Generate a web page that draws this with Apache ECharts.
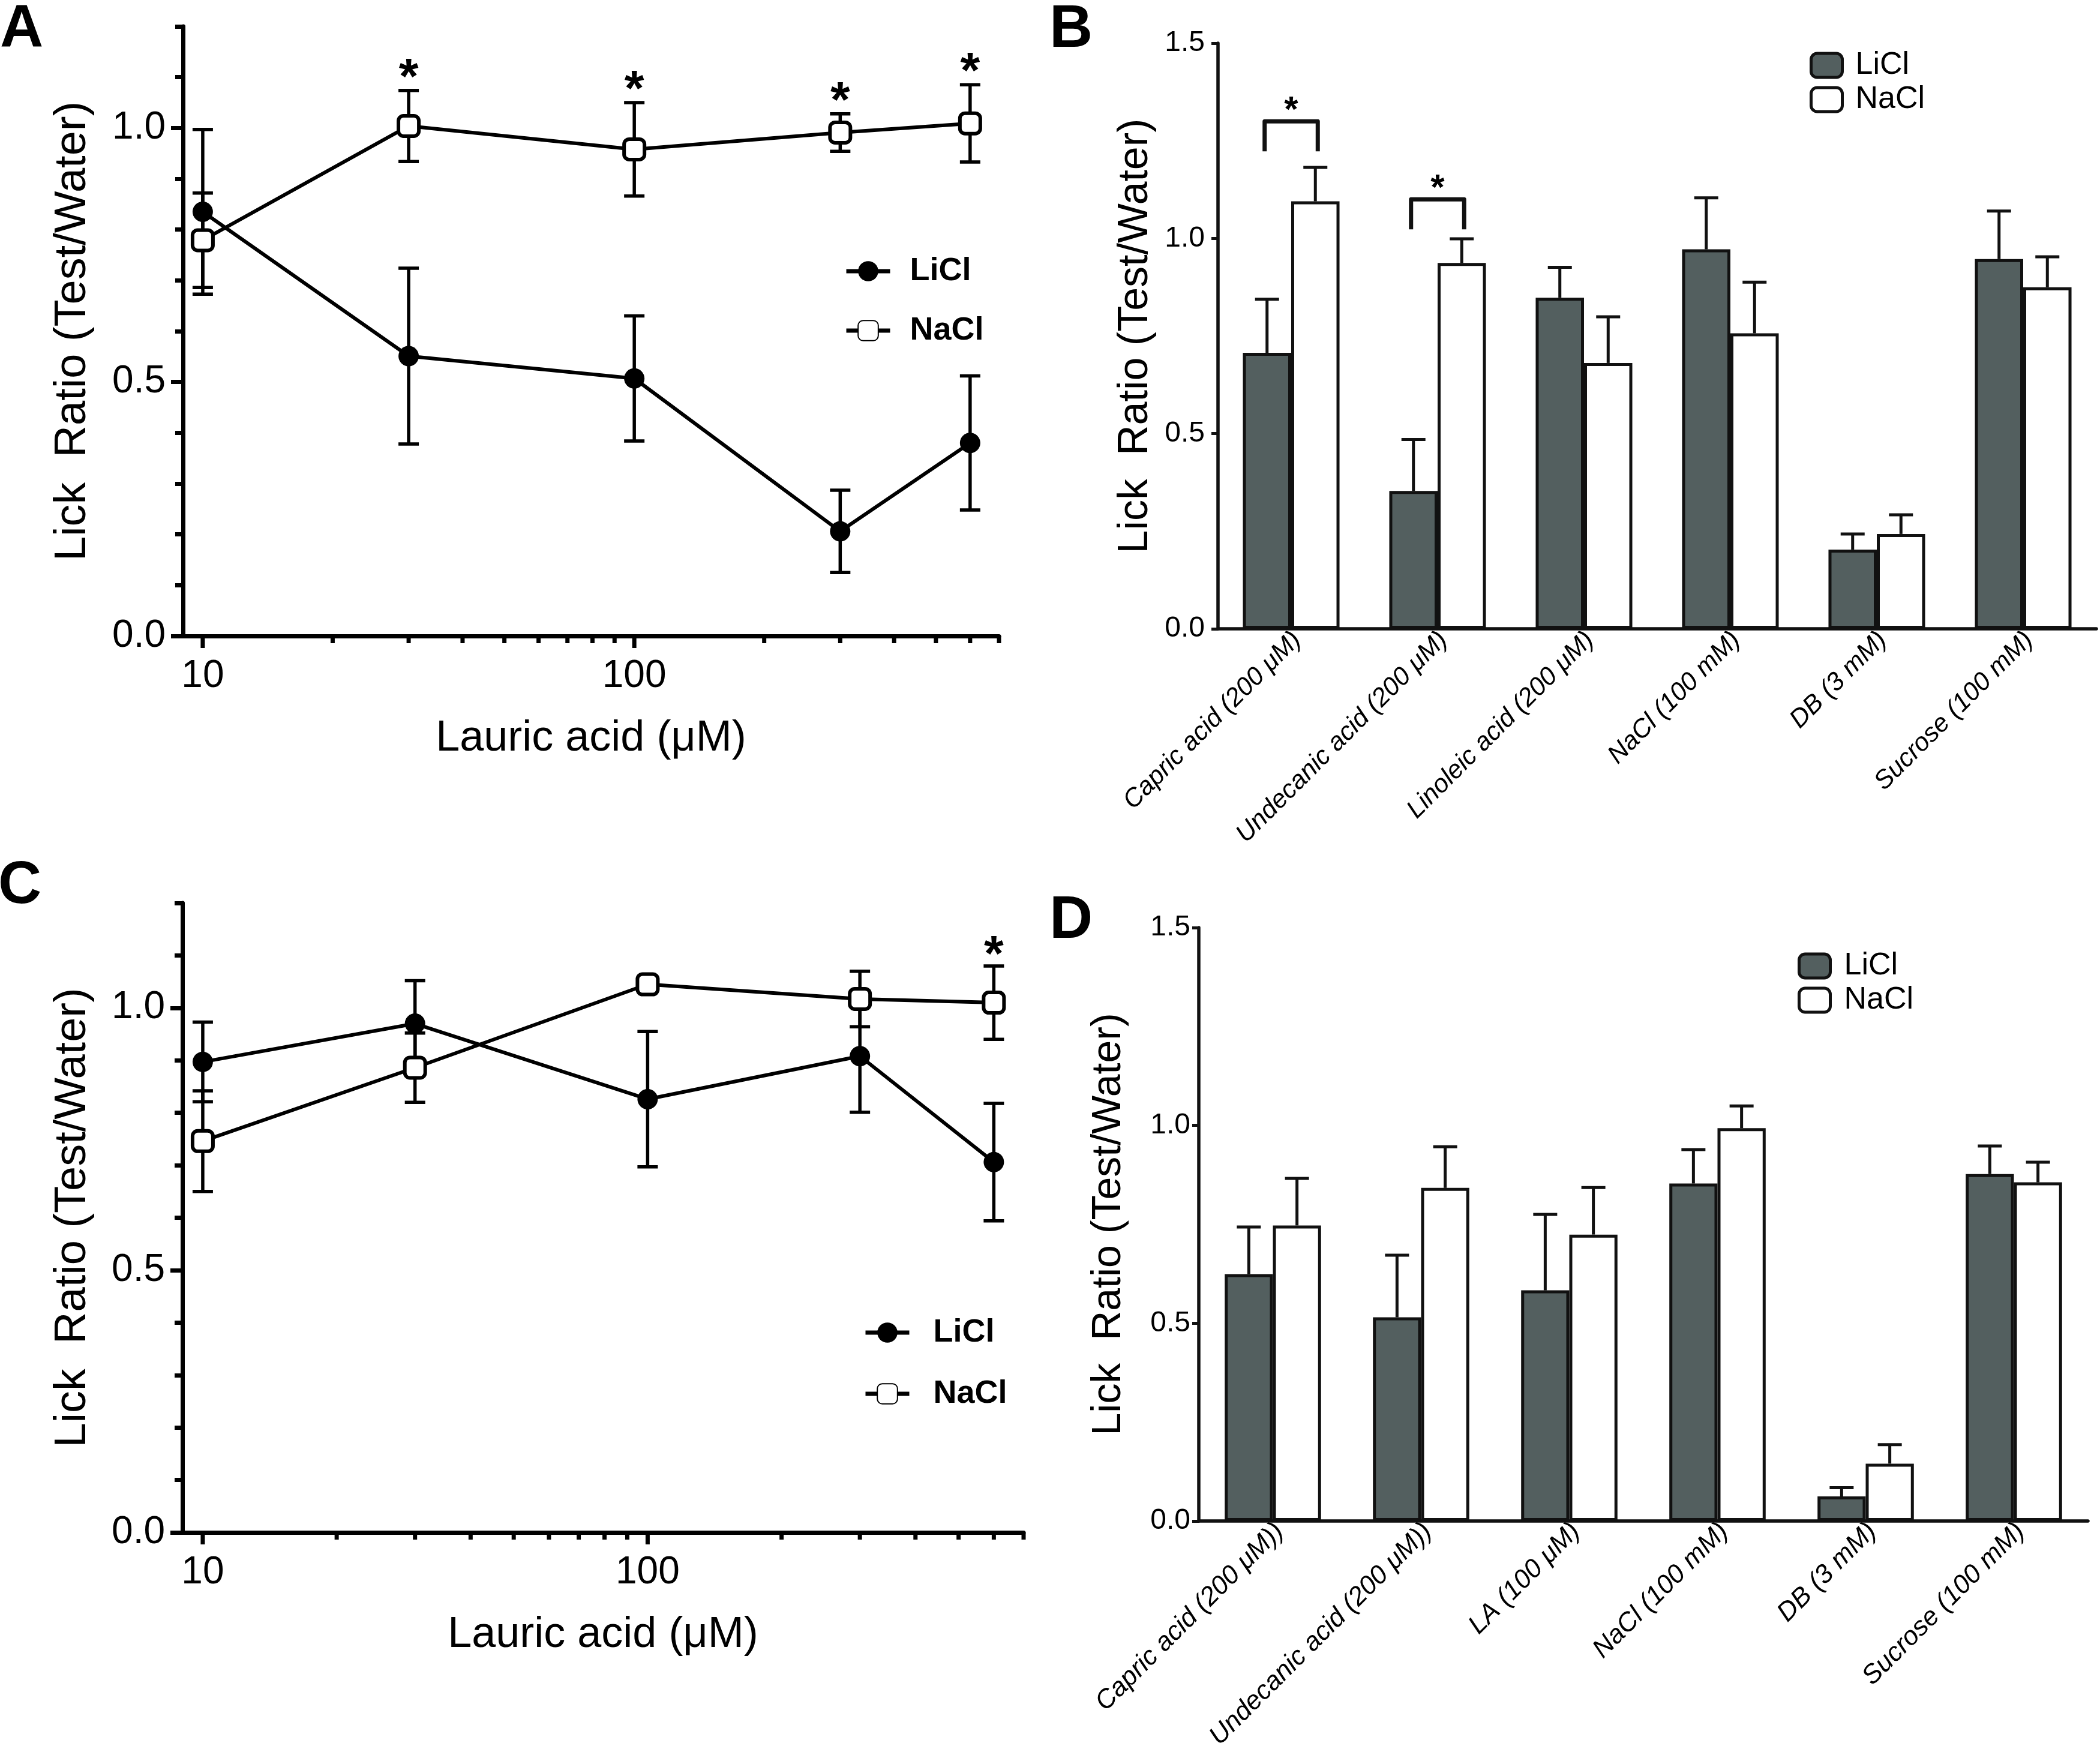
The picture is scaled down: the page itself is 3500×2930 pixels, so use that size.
<!DOCTYPE html>
<html><head><meta charset="utf-8">
<script src="https://cdn.jsdelivr.net/npm/echarts@6/dist/echarts.min.js"></script>
<style>html,body{margin:0;padding:0;background:#fff}#c{width:3500px;height:2930px}</style>
</head><body><div id="c"></div>
<script>
// ---------- Panel A : lauric acid dose response ----------
const aDoses     = [10, 30, 100, 300, 600];
const aLiClMean  = [0.835, 0.551, 0.507, 0.206, 0.380];
const aLiClSem   = [0.162, 0.173, 0.123, 0.081, 0.132];
const aNaClMean  = [0.779, 1.004, 0.958, 0.991, 1.009];
const aNaClSem   = [0.093, 0.070, 0.092, 0.037, 0.076];
const aSigDoses  = [30, 100, 300, 600];
// ---------- Panel C ----------
const cDoses     = [10, 30, 100, 300, 600];
const cLiClMean  = [0.897, 0.970, 0.826, 0.908, 0.706];
const cLiClSem   = [0.076, 0.082, 0.129, 0.107, 0.112];
const cNaClMean  = [0.746, 0.886, 1.045, 1.017, 1.010];
const cNaClSem   = [0.096, 0.066, 0.015, 0.053, 0.070];
const cSigDoses  = [600];
// ---------- Panel B ----------
const bCategories = ['Capric acid (200 μM)', 'Undecanic acid (200 μM)', 'Linoleic acid (200 μM)', 'NaCl (100 mM)', 'DB (3 mM)', 'Sucrose (100 mM)'];
const bLiClMean  = [0.707, 0.353, 0.848, 0.972, 0.203, 0.947];
const bLiClSem   = [0.137, 0.132, 0.078, 0.132, 0.040, 0.123];
const bNaClMean  = [1.095, 0.937, 0.681, 0.757, 0.243, 0.875];
const bNaClSem   = [0.087, 0.062, 0.118, 0.131, 0.049, 0.078];
const bBracketCats   = [0, 1];
const bBracketLevels = [1.30, 1.10];
// ---------- Panel D ----------
const dCategories = ['Capric acid (200 μM))', 'Undecanic acid (200 μM))', 'LA (100 μM)', 'NaCl (100 mM)', 'DB (3 mM)', 'Sucrose (100 mM)'];
const dLiClMean  = [0.624, 0.515, 0.583, 0.853, 0.062, 0.877];
const dLiClSem   = [0.119, 0.157, 0.192, 0.086, 0.022, 0.071];
const dNaClMean  = [0.747, 0.842, 0.724, 0.993, 0.145, 0.856];
const dNaClSem   = [0.119, 0.104, 0.119, 0.056, 0.048, 0.051];
// ---------- ticks ----------
const xMajorTicks = [10, 100];
const xMinorTicks = [20, 30, 40, 50, 60, 70, 80, 90, 200, 300, 400, 500, 600, 700];
const lineYLabels = [0, 0.5, 1.0];
const barYLabels  = [0, 0.5, 1.0, 1.5];

const FONT = "'Liberation Sans', Arial, Helvetica, sans-serif";
const BLACK = '#000';
const DARK = '#535f5f';
const yTitle = 'Lick  Ratio (Test/Water)';
const xTitle = 'Lauric acid (μM)';

const chart = echarts.init(document.getElementById('c'), null, {renderer: 'canvas'});

function zip(xs, ys) { return xs.map((x, i) => [x, ys[i]]); }
function errRows(xs, m, s) { return xs.map((x, i) => [x, m[i] - s[i], m[i] + s[i]]); }
function sigRows(sigXs, xs, m, s) { return sigXs.map(x => { const i = xs.indexOf(x); return [x, m[i] + s[i]]; }); }

function lineErrRender(params, api) {
  const x = api.value(0);
  const lo = api.coord([x, api.value(1)]);
  const hi = api.coord([x, api.value(2)]);
  const cw = 17;
  const st = {stroke: BLACK, lineWidth: 5.5};
  return {type: 'group', children: [
    {type: 'line', shape: {x1: lo[0], y1: lo[1], x2: hi[0], y2: hi[1]}, style: st},
    {type: 'line', shape: {x1: hi[0] - cw, y1: hi[1], x2: hi[0] + cw, y2: hi[1]}, style: st},
    {type: 'line', shape: {x1: lo[0] - cw, y1: lo[1], x2: lo[0] + cw, y2: lo[1]}, style: st}
  ]};
}
function starRender(gap, size) {
  return function (params, api) {
    const p = api.coord([api.value(0), api.value(1)]);
    return {type: 'text', style: {text: '*', x: p[0], y: p[1] - gap + size * 0.2, align: 'center', verticalAlign: 'middle',
      font: 'bold ' + size + 'px ' + FONT, fill: BLACK}};
  };
}
function tickRender(len) {
  return function (params, api) {
    const p = api.coord([api.value(0), 0]);
    return {type: 'line', shape: {x1: p[0], y1: p[1], x2: p[0], y2: p[1] + len}, style: {stroke: BLACK, lineWidth: 7}};
  };
}
function barErrRender(gapFrac) {
  return function (params, api) {
    const idx = api.value(0), side = api.value(3);
    const band = api.size([1, 0])[0];
    const bw = band * (1 - gapFrac) / 2;
    const b = api.coord([idx, api.value(1)]);
    const t = api.coord([idx, api.value(2)]);
    const cx = b[0] + side * bw / 2;
    const st = {stroke: '#111', lineWidth: 5};
    return {type: 'group', children: [
      {type: 'line', shape: {x1: cx, y1: b[1], x2: cx, y2: t[1]}, style: st},
      {type: 'line', shape: {x1: cx - 20, y1: t[1], x2: cx + 20, y2: t[1]}, style: st}
    ]};
  };
}
function bracketRender(gapFrac) {
  return function (params, api) {
    const idx = api.value(0);
    const band = api.size([1, 0])[0];
    const half = band * (1 - gapFrac) / 4 + 4;
    const c = api.coord([idx, api.value(1)]);
    return {type: 'group', children: [
      {type: 'polyline', shape: {points: [[c[0] - half, c[1] + 50], [c[0] - half, c[1]], [c[0] + half, c[1]], [c[0] + half, c[1] + 50]]},
        style: {stroke: '#111', lineWidth: 7, fill: null, lineJoin: 'round'}},
      {type: 'text', style: {text: '*', x: c[0], y: c[1] - 29 + 12, align: 'center', verticalAlign: 'middle',
        font: 'bold 60px ' + FONT, fill: BLACK}}
    ]};
  };
}
function barErrRows(m, s, side) { return m.map((v, i) => [i, v, v + s[i], side]); }

function logX(grid, nameGap) {
  return {type: 'log', logBase: 10, gridIndex: grid, min: 9, max: 700,
    axisLine: {lineStyle: {color: BLACK, width: 7}}, axisTick: {show: false}, minorTick: {show: false},
    splitLine: {show: false},
    axisLabel: {color: BLACK, fontSize: 64, fontFamily: FONT, margin: 35, interval: 0,
      formatter: v => xMajorTicks.some(t => Math.abs(t - v) < 1e-6 * t) ? String(Math.round(v)) : ''},
    name: xTitle, nameLocation: 'middle', nameGap: nameGap,
    nameTextStyle: {color: BLACK, fontSize: 72, fontFamily: FONT}};
}
function lineY(grid, nameGap) {
  return {type: 'value', gridIndex: grid, min: 0, max: 1.2, interval: 0.1, position: 'left',
    axisLine: {show: true, lineStyle: {color: BLACK, width: 7}},
    axisTick: {show: true, length: 13, lineStyle: {color: BLACK, width: 7}},
    axisLabel: {customValues: lineYLabels, formatter: v => v.toFixed(1), color: BLACK, fontSize: 64, fontFamily: FONT, margin: 29},
    splitLine: {show: false},
    name: yTitle, nameLocation: 'middle', nameGap: nameGap,
    nameTextStyle: {color: BLACK, fontSize: 74, fontFamily: FONT}};
}
function lineYMajor(grid) {
  return {type: 'value', gridIndex: grid, min: 0, max: 1.2, position: 'left',
    axisLine: {show: false}, axisLabel: {show: false}, splitLine: {show: false},
    axisTick: {show: true, customValues: lineYLabels, length: 20, lineStyle: {color: BLACK, width: 7}}};
}
function catX(grid, cats, along, perp, fs) {
  return {type: 'category', gridIndex: grid, data: cats, boundaryGap: true,
    axisLine: {lineStyle: {color: '#111', width: 5.5}},
    axisTick: {alignWithLabel: true, length: 12, lineStyle: {color: '#111', width: 5}},
    axisLabel: {rotate: 45, interval: 0, color: BLACK, fontSize: fs, fontStyle: 'italic', fontFamily: FONT, margin: 22,
      padding: [2 * perp, -along, 0, 0]},
    splitLine: {show: false}};
}
function barY(grid, nameGap, fs, margin) {
  return {type: 'value', gridIndex: grid, min: 0, max: 1.5, interval: 0.5,
    axisLine: {show: true, lineStyle: {color: '#111', width: 5.5}},
    axisTick: {show: true, length: 11, lineStyle: {color: '#111', width: 5}},
    axisLabel: {customValues: barYLabels, formatter: v => v.toFixed(1), color: BLACK, fontSize: 48, fontFamily: FONT, margin: margin},
    splitLine: {show: false},
    name: yTitle, nameLocation: 'middle', nameGap: nameGap,
    nameTextStyle: {color: BLACK, fontSize: fs, fontFamily: FONT}};
}

function lineSeries(name, xi, yi, xs, ys, isNa) {
  return {type: 'line', name: name, xAxisIndex: xi, yAxisIndex: yi, data: zip(xs, ys), z: 4,
    symbol: isNa ? 'roundRect' : 'circle', symbolSize: 34,
    itemStyle: isNa ? {color: '#fff', borderColor: BLACK, borderWidth: 6} : {color: BLACK},
    lineStyle: {color: BLACK, width: 6}, animation: false};
}
function customS(xi, yi, data, render, z) {
  return {type: 'custom', xAxisIndex: xi, yAxisIndex: yi, data: data, renderItem: render, z: z || 3, clip: false, silent: true, animation: false};
}
function barSeries(name, xi, yi, data, color, gap) {
  return {type: 'bar', name: name, xAxisIndex: xi, yAxisIndex: yi, data: data, barGap: '0%', barCategoryGap: (gap * 100) + '%',
    itemStyle: {color: color, borderColor: '#111', borderWidth: 5}, z: 2, animation: false};
}
const bGap = 0.34, dGap = 0.35;

const legendName = n => n.split(' ')[0];
function lineLegend(names, left, top, gap, pad) {
  return {data: names, orient: 'vertical', left: left, top: top, itemWidth: 73, itemHeight: 42, itemGap: gap,
    formatter: legendName, selectedMode: false,
    lineStyle: {color: BLACK, width: 7},
    textStyle: {color: BLACK, fontSize: 54, fontWeight: 'bold', fontFamily: FONT, lineHeight: 42, padding: [0, 0, 0, pad]}};
}
function barLegend(names, left, top, pad) {
  return {data: names, orient: 'vertical', left: left, top: top, itemWidth: 52, itemHeight: 40, itemGap: 5,
    formatter: legendName, selectedMode: false,
    itemStyle: {borderColor: '#111', borderWidth: 5},
    textStyle: {color: BLACK, fontSize: 52, fontFamily: FONT, lineHeight: 40, padding: [0, 0, 0, pad]}};
}

const option = {
  animation: false,
  backgroundColor: '#fff',
  textStyle: {fontFamily: FONT},
  grid: [
    {left: 305, top: 44, width: 1360, height: 1016, containLabel: false, outerBoundsMode: 'none'},
    {left: 304, top: 1505, width: 1402, height: 1049, containLabel: false, outerBoundsMode: 'none'},
    {left: 2030, top: 72, width: 1464, height: 976, containLabel: false, outerBoundsMode: 'none'},
    {left: 1998, top: 1546, width: 1482, height: 989, containLabel: false, outerBoundsMode: 'none'}
  ],
  xAxis: [logX(0, 135), logX(1, 135), catX(2, bCategories, 14, 30, 43), catX(3, dCategories, 16, 34, 44)],
  yAxis: [lineY(0, 146), lineYMajor(0), lineY(1, 145), lineYMajor(1), barY(2, 102, 70, 22), barY(3, 116, 68, 14)],
  legend: [
    lineLegend(['LiCl (A)', 'NaCl (A)'], 1402, 420, 45, 28),
    lineLegend(['LiCl (C)', 'NaCl (C)'], 1434, 2189, 48, 35),
    barLegend(['LiCl (B)', 'NaCl (B)'], 3011, 78, 17),
    barLegend(['LiCl (D)', 'NaCl (D)'], 2991, 1579, 18)
  ],
  graphic: [
    {type: 'text', style: {text: 'A', x: 0, y: 50, verticalAlign: 'middle', font: 'bold 100px ' + FONT, fill: BLACK}},
    {type: 'text', style: {text: 'B', x: 1749, y: 50, verticalAlign: 'middle', font: 'bold 100px ' + FONT, fill: BLACK}},
    {type: 'text', style: {text: 'C', x: -3, y: 1477, verticalAlign: 'middle', font: 'bold 100px ' + FONT, fill: BLACK}},
    {type: 'text', style: {text: 'D', x: 1749, y: 1535, verticalAlign: 'middle', font: 'bold 100px ' + FONT, fill: BLACK}}
  ],
  series: [
    // Panel A
    customS(0, 0, xMajorTicks.map(v => [v]), tickRender(20), 1),
    customS(0, 0, xMinorTicks.map(v => [v]), tickRender(12), 1),
    customS(0, 0, errRows(aDoses, aLiClMean, aLiClSem).concat(errRows(aDoses, aNaClMean, aNaClSem)), lineErrRender, 3),
    lineSeries('LiCl (A)', 0, 0, aDoses, aLiClMean, false),
    lineSeries('NaCl (A)', 0, 0, aDoses, aNaClMean, true),
    customS(0, 0, sigRows(aSigDoses, aDoses, aNaClMean, aNaClSem), starRender(35, 84), 5),
    // Panel C
    customS(1, 2, xMajorTicks.map(v => [v]), tickRender(20), 1),
    customS(1, 2, xMinorTicks.map(v => [v]), tickRender(12), 1),
    customS(1, 2, errRows(cDoses, cLiClMean, cLiClSem).concat(errRows(cDoses, cNaClMean, cNaClSem)), lineErrRender, 3),
    lineSeries('LiCl (C)', 1, 2, cDoses, cLiClMean, false),
    lineSeries('NaCl (C)', 1, 2, cDoses, cNaClMean, true),
    customS(1, 2, sigRows(cSigDoses, cDoses, cNaClMean, cNaClSem), starRender(32, 84), 5),
    // Panel B
    barSeries('LiCl (B)', 2, 4, bLiClMean, DARK, bGap),
    barSeries('NaCl (B)', 2, 4, bNaClMean, '#fff', bGap),
    customS(2, 4, barErrRows(bLiClMean, bLiClSem, -1).concat(barErrRows(bNaClMean, bNaClSem, 1)), barErrRender(bGap), 3),
    customS(2, 4, bBracketCats.map((c, i) => [c, bBracketLevels[i]]), bracketRender(bGap), 3),
    // Panel D
    barSeries('LiCl (D)', 3, 5, dLiClMean, DARK, dGap),
    barSeries('NaCl (D)', 3, 5, dNaClMean, '#fff', dGap),
    customS(3, 5, barErrRows(dLiClMean, dLiClSem, -1).concat(barErrRows(dNaClMean, dNaClSem, 1)), barErrRender(dGap), 3)
  ]
};
chart.setOption(option);
</script>
</body></html>
